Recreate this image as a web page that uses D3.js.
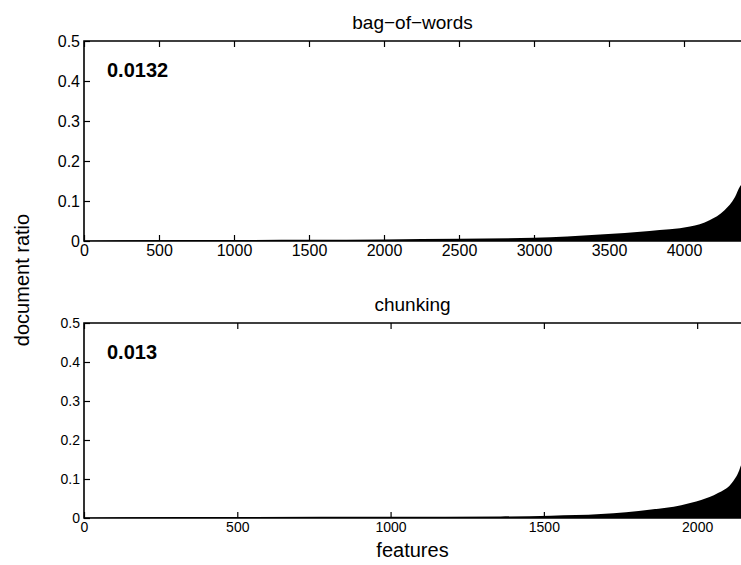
<!DOCTYPE html>
<html>
<head>
<meta charset="utf-8">
<script src="https://cdn.jsdelivr.net/npm/d3@7"></script>
<style>
  body { margin: 0; background: #fff; }
  svg { display: block; font-family: "Liberation Sans", Arial, Helvetica, sans-serif; }
</style>
</head>
<body>
<div id="painting"></div>
<script>
// sorted document ratio per feature
var bowRank  = [0, 260, 1000, 1500, 2000, 2500, 3000, 3440, 3770, 4040, 4170, 4270, 4340, 4373, 4380];
var bowRatio = [0.0005, 0.002, 0.0025, 0.003, 0.004, 0.0055, 0.008, 0.016, 0.025, 0.036, 0.052, 0.077, 0.11, 0.136, 0.14];

var chunkRank  = [0, 125, 500, 1000, 1359, 1523, 1686, 1768, 1850, 1948, 2013, 2068, 2111, 2137, 2143];
var chunkRatio = [0.0005, 0.002, 0.0025, 0.003, 0.004, 0.006, 0.01, 0.015, 0.022, 0.033, 0.046, 0.064, 0.088, 0.122, 0.135];

var yTicks = [0, 0.1, 0.2, 0.3, 0.4, 0.5];
var bowXTicks = [0, 500, 1000, 1500, 2000, 2500, 3000, 3500, 4000];
var chunkXTicks = [0, 500, 1000, 1500, 2000];

var panels = [
  {title: "bag\u2212of\u2212words", note: "0.0132", rank: bowRank, ratio: bowRatio,
   xMax: 4380, xTicks: bowXTicks, top: 41, bottom: 241, font: 16},
  {title: "chunking", note: "0.013", rank: chunkRank, ratio: chunkRatio,
   xMax: 2143, xTicks: chunkXTicks, top: 323, bottom: 518, font: 14}
];

var W = 741, H = 565;
var left = 84, right = 741;

var svg = d3.select("#painting")
  .append("svg")
  .attr("width", W)
  .attr("height", H);

panels.forEach(function(p) {
  var x = d3.scaleLinear().domain([0, p.xMax]).range([left, right]);
  var y = d3.scaleLinear().domain([0, 0.5]).range([p.bottom, p.top]);
  var g = svg.append("g");

  var pts = p.rank.map(function(r, i) { return [r, p.ratio[i]]; });
  var area = d3.area()
    .x(function(d) { return x(d[0]); })
    .y0(y(0))
    .y1(function(d) { return y(d[1]); })
    .curve(d3.curveMonotoneX);
  g.append("path")
    .datum(pts)
    .attr("d", area)
    .attr("fill", "#000");

  // box
  g.append("path")
    .attr("d", "M" + (right + 2) + "," + p.top + "H" + left + "V" + p.bottom + "H" + (right + 2))
    .attr("fill", "none")
    .attr("stroke", "#000")
    .attr("stroke-width", 1.6);

  // ticks inside
  var yAxis = d3.axisLeft(y).tickValues(yTicks).tickSize(-6).tickPadding(10)
    .tickFormat(function(d) { return d === 0 ? "0" : d3.format(".1f")(d); });
  var ya = g.append("g").attr("transform", "translate(" + left + ",0)").call(yAxis);
  ya.select(".domain").remove();

  var xAxis = d3.axisBottom(x).tickValues(p.xTicks).tickSize(-6).tickPadding(10)
    .tickFormat(d3.format("d"));
  var xa = g.append("g").attr("transform", "translate(0," + p.bottom + ")").call(xAxis);
  xa.select(".domain").remove();

  var xTop = d3.axisTop(x).tickValues(p.xTicks).tickSize(-6).tickFormat("");
  var xt = g.append("g").attr("transform", "translate(0," + p.top + ")").call(xTop);
  xt.select(".domain").remove();

  g.selectAll(".tick line").attr("stroke", "#000").attr("stroke-width", 1.2);
  g.selectAll(".tick text")
    .attr("font-family", "Liberation Sans, Arial, sans-serif")
    .attr("font-size", p.font)
    .attr("fill", "#000");
  ya.selectAll(".tick text").attr("x", -4);
  xa.selectAll(".tick text").attr("y", 4).attr("dy", "0.71em");

  g.append("text")
    .attr("x", (left + right) / 2)
    .attr("y", p.top - 12)
    .attr("text-anchor", "middle")
    .attr("font-size", 19)
    .text(p.title);

  g.append("text")
    .attr("x", 107)
    .attr("y", p.top + 36)
    .attr("font-size", 20)
    .attr("font-weight", "bold")
    .text(p.note);
});

svg.append("text")
  .attr("x", (left + right) / 2)
  .attr("y", 557)
  .attr("text-anchor", "middle")
  .attr("font-size", 20)
  .text("features");

svg.append("text")
  .attr("transform", "translate(29,280) rotate(-90)")
  .attr("text-anchor", "middle")
  .attr("font-size", 20)
  .text("document ratio");
</script>
</body>
</html>
